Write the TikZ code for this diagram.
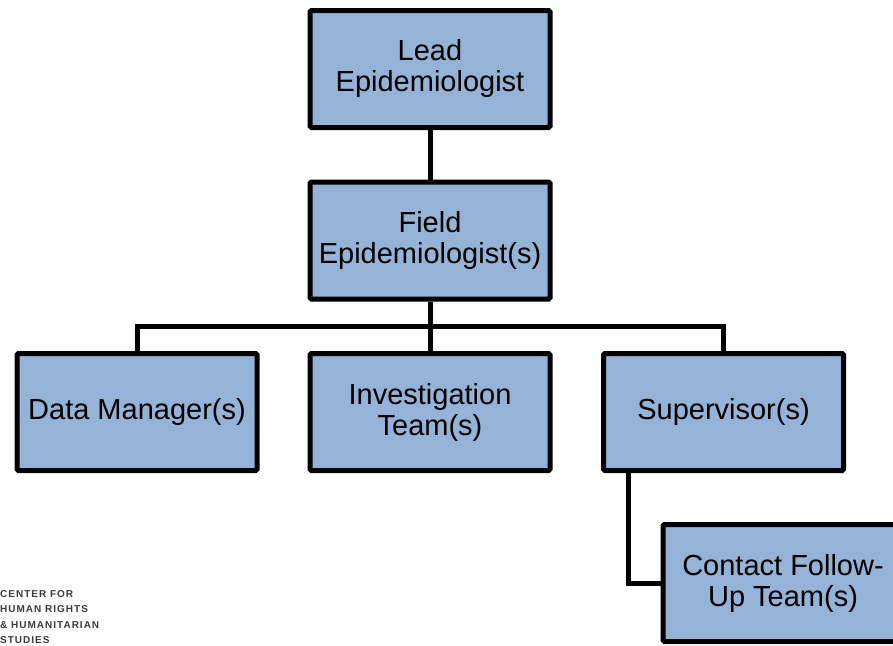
\documentclass[tikz,border=0pt]{standalone}
\usepackage{fontspec}
\setmainfont{Liberation Sans}
\newfontfamily\logofont[LetterSpace=10]{Liberation Sans}
\definecolor{boxblue}{HTML}{95B3D7}
\definecolor{logogray}{HTML}{3A3A3A}
\begin{document}
\begin{tikzpicture}[x=1pt,y=-1pt,
  orgbox/.style={draw=black,line width=5pt,fill=boxblue,minimum width=240pt,minimum height=117pt,
    align=center,inner sep=0pt,font=\fontsize{29}{31}\selectfont,rounded corners=1.5pt},
  link/.style={line width=5pt,draw=black}]
\useasboundingbox (0,0) rectangle (893,645);
\clip (0,0) rectangle (893,645);
\node[orgbox] (lead) at (430,69) {Lead\\Epidemiologist};
\node[orgbox] (field) at (430,240.5) {Field\\Epidemiologist(s)};
\node[orgbox] (data) at (137,412) {Data Manager(s)};
\node[orgbox] (inv) at (430,412) {Investigation\\Team(s)};
\node[orgbox] (sup) at (723.5,412) {Supervisor(s)};
\node[orgbox] (cont) at (783,583) {Contact Follow-\\Up Team(s)};
\coordinate (bus) at (430,326);
\draw[link] (lead.south) -- (field.north);
\draw[link] (field.south) -- (bus);
\draw[link] (data.north) |- (bus) -| (sup.north);
\draw[link] (bus) -- (inv.north);
\draw[link] (sup.south -| 628,0) |- (cont.west);
\node[anchor=north west,inner sep=0pt,align=left,text=logogray,
  font=\logofont\bfseries\fontsize{10}{15.5}\selectfont] (logo) at (0,590)
  {CENTER FOR\\HUMAN RIGHTS\\\& HUMANITARIAN\\STUDIES};
\end{tikzpicture}
\end{document}
